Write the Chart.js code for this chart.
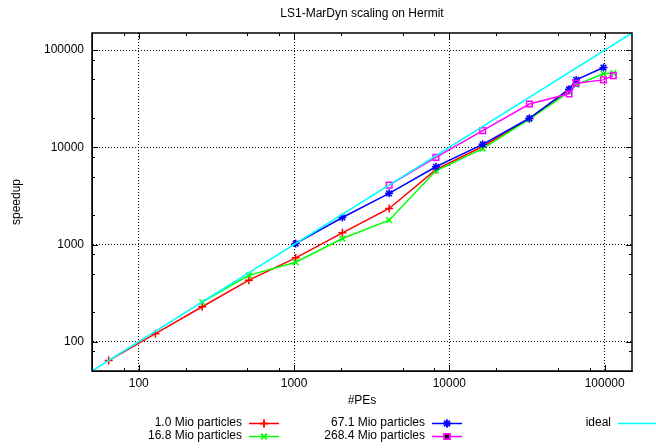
<!DOCTYPE html>
<html>
<head>
<meta charset="utf-8">
<script src="https://cdn.jsdelivr.net/npm/chart.js@4"></script>
<style>
  html, body { margin: 0; padding: 0; background: #fff; }
  #wrap { width: 656px; height: 448px; }
</style>
</head>
<body>
<div id="wrap"><canvas id="scalingChart" width="656" height="448"></canvas></div>
<script>
// LS1-MarDyn scaling on Hermit — log/log speedup plot
const xTicks = [100, 1000, 10000, 100000];
const yTicks = [100, 1000, 10000, 100000];

const pes1M     = [64, 128, 256, 512, 1024, 2048, 4096, 8192, 16384, 32768, 59000];
const speedup1M = [64, 121, 229, 430, 730, 1320, 2350, 5900, 10200, 19700, 39000];

const pes16M     = [256, 512, 1024, 2048, 4096, 8192, 16384, 32768, 59000, 65536, 98304, 113664];
const speedup16M = [256, 482, 657, 1153, 1780, 5740, 9690, 19500, 37000, 44000, 57000, 58000];

const pes67M     = [1024, 2048, 4096, 8192, 16384, 32768, 59000, 65536, 98304];
const speedup67M = [1023, 1897, 3360, 6310, 10740, 19900, 39600, 49400, 66200];

const pes268M     = [4096, 8192, 16384, 32768, 59000, 65536, 98304, 113664];
const speedup268M = [4085, 7890, 14830, 27900, 35500, 45700, 49400, 54700];

const idealPes     = [50, 150000];
const idealSpeedup = [50, 150000];

const labels = ["1.0 Mio particles", "16.8 Mio particles", "67.1 Mio particles", "268.4 Mio particles", "ideal"];

const FONT = "'Liberation Sans', Arial, sans-serif";

function pts(xs, ys) { return xs.map((x, i) => ({ x: x, y: ys[i] })); }

function series(label, xs, ys, color, style, order) {
  return {
    label: label,
    data: pts(xs, ys),
    borderColor: color,
    backgroundColor: "transparent",
    pointBorderColor: color,
    pointBackgroundColor: "transparent",
    pointStyle: style,
    pointRadius: style ? 4 : 0,
    pointBorderWidth: 1.5,
    borderWidth: 1.5,
    tension: 0,
    order: order
  };
}

// minor ticks (2, 5, 8 per decade), frame, titles and the key
const decorations = {
  id: "decorations",
  afterDraw(chart) {
    const ctx = chart.ctx;
    const a = chart.chartArea;
    const xs = chart.scales.x, ys = chart.scales.y;
    ctx.save();
    ctx.strokeStyle = "#000";
    ctx.lineWidth = 1;

    const minors = [];
    for (let d = 10; d <= 100000; d *= 10) [2, 5, 8].forEach(m => minors.push(m * d));

    ctx.beginPath();
    minors.forEach(v => {
      if (v > xs.min && v < xs.max) {
        const px = Math.round(xs.getPixelForValue(v)) + 0.5;
        ctx.moveTo(px, a.bottom); ctx.lineTo(px, a.bottom - 3);
        ctx.moveTo(px, a.top); ctx.lineTo(px, a.top + 3);
      }
      if (v > ys.min && v < ys.max) {
        const py = Math.round(ys.getPixelForValue(v)) + 0.5;
        ctx.moveTo(a.left, py); ctx.lineTo(a.left + 3, py);
        ctx.moveTo(a.right, py); ctx.lineTo(a.right - 3, py);
      }
    });
    xTicks.forEach(v => {
      const px = Math.round(xs.getPixelForValue(v)) + 0.5;
      ctx.moveTo(px, a.bottom); ctx.lineTo(px, a.bottom - 6);
      ctx.moveTo(px, a.top); ctx.lineTo(px, a.top + 6);
    });
    yTicks.forEach(v => {
      const py = Math.round(ys.getPixelForValue(v)) + 0.5;
      ctx.moveTo(a.left, py); ctx.lineTo(a.left + 6, py);
      ctx.moveTo(a.right, py); ctx.lineTo(a.right - 6, py);
    });
    ctx.stroke();

    ctx.lineWidth = 1.5;
    ctx.strokeRect(a.left, a.top, a.right - a.left, a.bottom - a.top);

    // texts
    ctx.fillStyle = "#000";
    ctx.font = "12px " + FONT;
    ctx.textAlign = "center";
    ctx.textBaseline = "middle";
    const cx = (a.left + a.right) / 2;
    ctx.fillText("LS1-MarDyn scaling on Hermit", cx, 14);
    ctx.fillText("#PEs", cx, 401);

    ctx.save();
    ctx.translate(17, (a.top + a.bottom) / 2);
    ctx.rotate(-Math.PI / 2);
    ctx.fillText("speedup", 0, 0);
    ctx.restore();

    // key
    const cols = [242, 425, 611];
    const rows = [423, 436];
    const slots = [[0, 0], [0, 1], [1, 0], [1, 1], [2, 0]];
    ctx.textAlign = "right";
    chart.data.datasets.forEach((ds, i) => {
      const [c, r] = slots[i];
      const tx = cols[c], ty = rows[r];
      ctx.fillStyle = "#000";
      ctx.fillText(ds.label, tx, ty);
      const x0 = tx + 7, x1 = c === 2 ? chart.width : tx + 37;
      ctx.strokeStyle = ds.borderColor;
      ctx.lineWidth = 1.5;
      ctx.beginPath();
      ctx.moveTo(x0, ty + 0.5); ctx.lineTo(x1, ty + 0.5);
      ctx.stroke();
      if (ds.pointStyle) {
        Chart.helpers.drawPoint(ctx, {
          pointStyle: ds.pointStyle, radius: 4, rotation: 0, borderWidth: 1.5
        }, (x0 + x1) / 2, ty + 0.5);
        ctx.stroke();
      }
    });
    ctx.restore();
  }
};

const scaleCommon = {
  type: "logarithmic",
  min: 50,
  max: 150000,
  grid: { color: "#000", lineWidth: 1, drawTicks: false },
  border: { display: true, color: "#000", dash: [1, 2] },
  ticks: {
    color: "#000",
    font: { family: FONT, size: 12 },
    autoSkip: false,
    maxRotation: 0,
    callback: v => String(v)
  }
};

new Chart(document.getElementById("scalingChart"), {
  type: "line",
  data: {
    datasets: [
      series(labels[0], pes1M, speedup1M, "#ff0000", "cross", 4),
      series(labels[1], pes16M, speedup16M, "#00ff00", "crossRot", 3),
      series(labels[2], pes67M, speedup67M, "#0000ff", "star", 2),
      series(labels[3], pes268M, speedup268M, "#ff00ff", "rect", 1),
      series(labels[4], idealPes, idealSpeedup, "#00ffff", false, 0)
    ]
  },
  options: {
    responsive: false,
    animation: false,
    layout: { padding: { top: 33, right: 24, left: 0, bottom: 0 } },
    plugins: { legend: { display: false }, title: { display: false }, tooltip: { enabled: false } },
    scales: {
      x: Object.assign({}, scaleCommon, {
        ticks: Object.assign({}, scaleCommon.ticks, { padding: 5 }),
        afterBuildTicks: s => { s.ticks = xTicks.map(v => ({ value: v })); },
        afterFit: s => { s.height = 77; }
      }),
      y: Object.assign({}, scaleCommon, {
        ticks: Object.assign({}, scaleCommon.ticks, { padding: 8 }),
        afterBuildTicks: s => { s.ticks = yTicks.map(v => ({ value: v })); },
        afterFit: s => { s.width = 92; }
      })
    }
  },
  plugins: [decorations]
});
</script>
</body>
</html>
